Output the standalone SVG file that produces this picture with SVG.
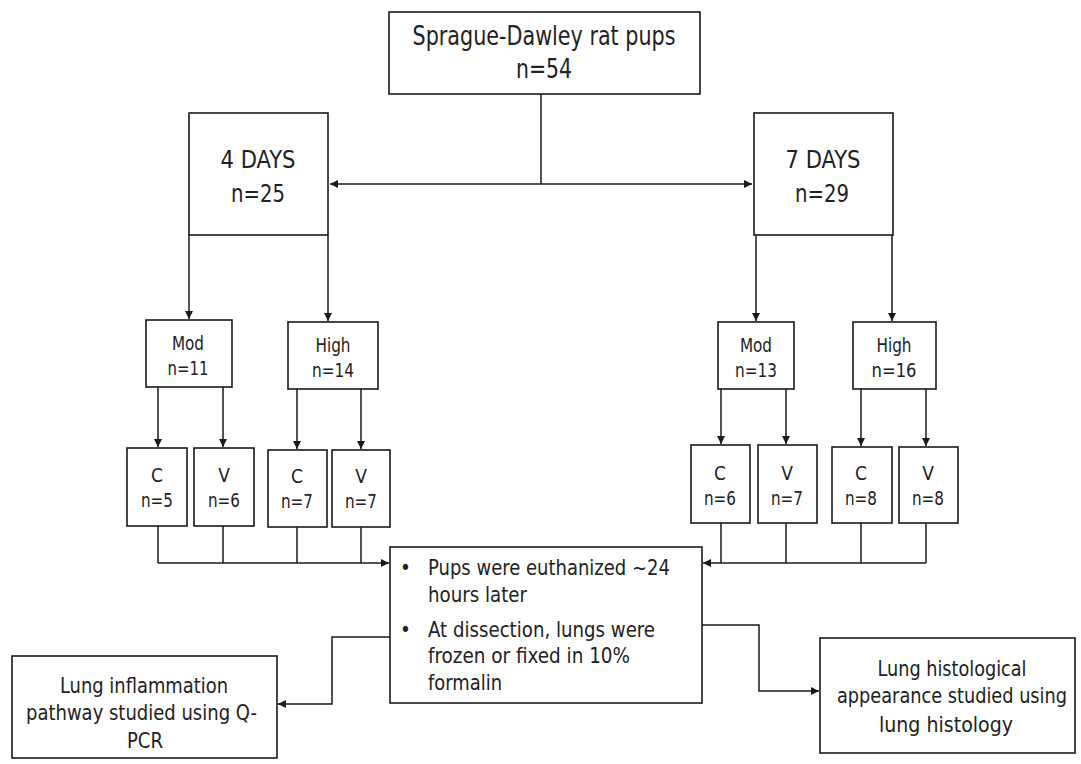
<svg xmlns="http://www.w3.org/2000/svg" width="1081" height="764" viewBox="0 0 1081 764">
<defs>
<marker id="ah" viewBox="0 0 10 10" refX="10" refY="5" markerWidth="8" markerHeight="8" markerUnits="userSpaceOnUse" orient="auto">
<path d="M0,0 L10,5 L0,10 z" fill="#1a1a1a"/>
</marker>
<style>
.box{fill:#fff;stroke:#1a1a1a;stroke-width:1.6}
.ln{fill:none;stroke:#1a1a1a;stroke-width:1.5}
text{font-family:"DejaVu Sans Condensed","DejaVu Sans","Liberation Sans",sans-serif;fill:#222;text-anchor:middle}
.t27{font-size:27px}
.t25{font-size:25px}
.t19{font-size:19px}
.t20{font-size:20.5px}
.l{text-anchor:start}
</style>
</defs>
<rect width="1081" height="764" fill="#fff"/>
<g id="connectors">
<line class="ln" x1="541" y1="94" x2="541" y2="184"/>
<line class="ln" x1="541" y1="184" x2="330" y2="184" marker-end="url(#ah)"/>
<line class="ln" x1="541" y1="184" x2="752" y2="184" marker-end="url(#ah)"/>
<line class="ln" x1="189" y1="235" x2="189" y2="319" marker-end="url(#ah)"/>
<line class="ln" x1="328" y1="235" x2="328" y2="321" marker-end="url(#ah)"/>
<line class="ln" x1="756" y1="235" x2="756" y2="321" marker-end="url(#ah)"/>
<line class="ln" x1="892" y1="235" x2="892" y2="321" marker-end="url(#ah)"/>
<line class="ln" x1="158" y1="387" x2="158" y2="447" marker-end="url(#ah)"/>
<line class="ln" x1="223" y1="387" x2="223" y2="447" marker-end="url(#ah)"/>
<line class="ln" x1="297" y1="389" x2="297" y2="449" marker-end="url(#ah)"/>
<line class="ln" x1="361" y1="389" x2="361" y2="449" marker-end="url(#ah)"/>
<line class="ln" x1="721" y1="389" x2="721" y2="444" marker-end="url(#ah)"/>
<line class="ln" x1="786" y1="389" x2="786" y2="444" marker-end="url(#ah)"/>
<line class="ln" x1="861" y1="389" x2="861" y2="446" marker-end="url(#ah)"/>
<line class="ln" x1="926" y1="389" x2="926" y2="446" marker-end="url(#ah)"/>
<line class="ln" x1="158" y1="526" x2="158" y2="563"/>
<line class="ln" x1="223" y1="526" x2="223" y2="563"/>
<line class="ln" x1="297" y1="527" x2="297" y2="563"/>
<line class="ln" x1="361" y1="527" x2="361" y2="563"/>
<line class="ln" x1="158" y1="563" x2="389" y2="563" marker-end="url(#ah)"/>
<line class="ln" x1="721" y1="523" x2="721" y2="563"/>
<line class="ln" x1="786" y1="523" x2="786" y2="563"/>
<line class="ln" x1="861" y1="523" x2="861" y2="563"/>
<line class="ln" x1="926" y1="523" x2="926" y2="563"/>
<line class="ln" x1="926" y1="563" x2="703" y2="563" marker-end="url(#ah)"/>
<polyline class="ln" points="390,637 332,637 332,704 278,704" marker-end="url(#ah)"/>
<polyline class="ln" points="702,625 759,625 759,691 819,691" marker-end="url(#ah)"/>
</g>
<g id="n_root">
<rect class="box" x="389" y="12" width="311" height="82"/>
<text class="t27" x="544" y="45" textLength="263" lengthAdjust="spacingAndGlyphs">Sprague-Dawley rat pups</text>
<text class="t27" x="544" y="78" textLength="56" lengthAdjust="spacingAndGlyphs">n=54</text>
</g>
<g id="n_4days">
<rect class="box" x="189" y="113" width="139" height="122"/>
<text class="t25" x="258" y="168" textLength="75" lengthAdjust="spacingAndGlyphs">4 DAYS</text>
<text class="t25" x="258" y="202" textLength="54" lengthAdjust="spacingAndGlyphs">n=25</text>
</g>
<g id="n_7days">
<rect class="box" x="754" y="113" width="139" height="122"/>
<text class="t25" x="823" y="168" textLength="75" lengthAdjust="spacingAndGlyphs">7 DAYS</text>
<text class="t25" x="822" y="202" textLength="54" lengthAdjust="spacingAndGlyphs">n=29</text>
</g>
<g id="n_mod4">
<rect class="box" x="146" y="320" width="86" height="67"/>
<text class="t19" x="188" y="350" textLength="32" lengthAdjust="spacingAndGlyphs">Mod</text>
<text class="t19" x="188" y="375" textLength="41" lengthAdjust="spacingAndGlyphs">n=11</text>
</g>
<g id="n_high4">
<rect class="box" x="288" y="322" width="90" height="67"/>
<text class="t19" x="333" y="352" textLength="35" lengthAdjust="spacingAndGlyphs">High</text>
<text class="t19" x="333" y="377" textLength="42" lengthAdjust="spacingAndGlyphs">n=14</text>
</g>
<g id="n_mod7">
<rect class="box" x="718" y="322" width="76" height="67"/>
<text class="t19" x="756" y="352" textLength="32" lengthAdjust="spacingAndGlyphs">Mod</text>
<text class="t19" x="756" y="377" textLength="42" lengthAdjust="spacingAndGlyphs">n=13</text>
</g>
<g id="n_high7">
<rect class="box" x="853" y="322" width="83" height="67"/>
<text class="t19" x="894" y="352" textLength="35" lengthAdjust="spacingAndGlyphs">High</text>
<text class="t19" x="894" y="377" textLength="45" lengthAdjust="spacingAndGlyphs">n=16</text>
</g>
<g id="n_c4m">
<rect class="box" x="127" y="448" width="60" height="78"/>
<text class="t19" x="157" y="482">C</text>
<text class="t19" x="157" y="507" textLength="32" lengthAdjust="spacingAndGlyphs">n=5</text>
</g>
<g id="n_v4m">
<rect class="box" x="194" y="448" width="60" height="78"/>
<text class="t19" x="224" y="482">V</text>
<text class="t19" x="224" y="507" textLength="32" lengthAdjust="spacingAndGlyphs">n=6</text>
</g>
<g id="n_c4h">
<rect class="box" x="268" y="450" width="59" height="77"/>
<text class="t19" x="297" y="483">C</text>
<text class="t19" x="297" y="508" textLength="32" lengthAdjust="spacingAndGlyphs">n=7</text>
</g>
<g id="n_v4h">
<rect class="box" x="332" y="450" width="58" height="77"/>
<text class="t19" x="361" y="483">V</text>
<text class="t19" x="361" y="508" textLength="32" lengthAdjust="spacingAndGlyphs">n=7</text>
</g>
<g id="n_c7m">
<rect class="box" x="691" y="445" width="59" height="78"/>
<text class="t19" x="720" y="480">C</text>
<text class="t19" x="720" y="505" textLength="32" lengthAdjust="spacingAndGlyphs">n=6</text>
</g>
<g id="n_v7m">
<rect class="box" x="758" y="445" width="59" height="78"/>
<text class="t19" x="787" y="480">V</text>
<text class="t19" x="787" y="505" textLength="32" lengthAdjust="spacingAndGlyphs">n=7</text>
</g>
<g id="n_c7h">
<rect class="box" x="832" y="447" width="60" height="76"/>
<text class="t19" x="861" y="480">C</text>
<text class="t19" x="861" y="505" textLength="32" lengthAdjust="spacingAndGlyphs">n=8</text>
</g>
<g id="n_v7h">
<rect class="box" x="899" y="447" width="59" height="76"/>
<text class="t19" x="928" y="480">V</text>
<text class="t19" x="928" y="505" textLength="32" lengthAdjust="spacingAndGlyphs">n=8</text>
</g>
<g id="n_center">
<rect class="box" x="390" y="547" width="312" height="156"/>
<text class="t20 l" x="400" y="575">•</text>
<text class="t20 l" x="428" y="575" textLength="242" lengthAdjust="spacingAndGlyphs">Pups were euthanized ~24</text>
<text class="t20 l" x="428" y="602" textLength="99" lengthAdjust="spacingAndGlyphs">hours later</text>
<text class="t20 l" x="400" y="637">•</text>
<text class="t20 l" x="428" y="637" textLength="227" lengthAdjust="spacingAndGlyphs">At dissection, lungs were</text>
<text class="t20 l" x="428" y="663" textLength="202" lengthAdjust="spacingAndGlyphs">frozen or fixed in 10%</text>
<text class="t20 l" x="428" y="690" textLength="74" lengthAdjust="spacingAndGlyphs">formalin</text>
</g>
<g id="n_qpcr">
<rect class="box" x="12" y="656" width="265" height="102"/>
<text class="t20" x="144" y="693" textLength="168" lengthAdjust="spacingAndGlyphs">Lung inflammation</text>
<text class="t20" x="141.5" y="720" textLength="231" lengthAdjust="spacingAndGlyphs">pathway studied using  Q-</text>
<text class="t20" x="145" y="748" textLength="36" lengthAdjust="spacingAndGlyphs">PCR</text>
</g>
<g id="n_histo">
<rect class="box" x="820" y="638" width="255" height="115"/>
<text class="t20" x="952" y="676" textLength="149" lengthAdjust="spacingAndGlyphs">Lung histological</text>
<text class="t20" x="952" y="703" textLength="230" lengthAdjust="spacingAndGlyphs">appearance studied using</text>
<text class="t20" x="946" y="732" textLength="134" lengthAdjust="spacingAndGlyphs">lung histology</text>
</g>
</svg>
